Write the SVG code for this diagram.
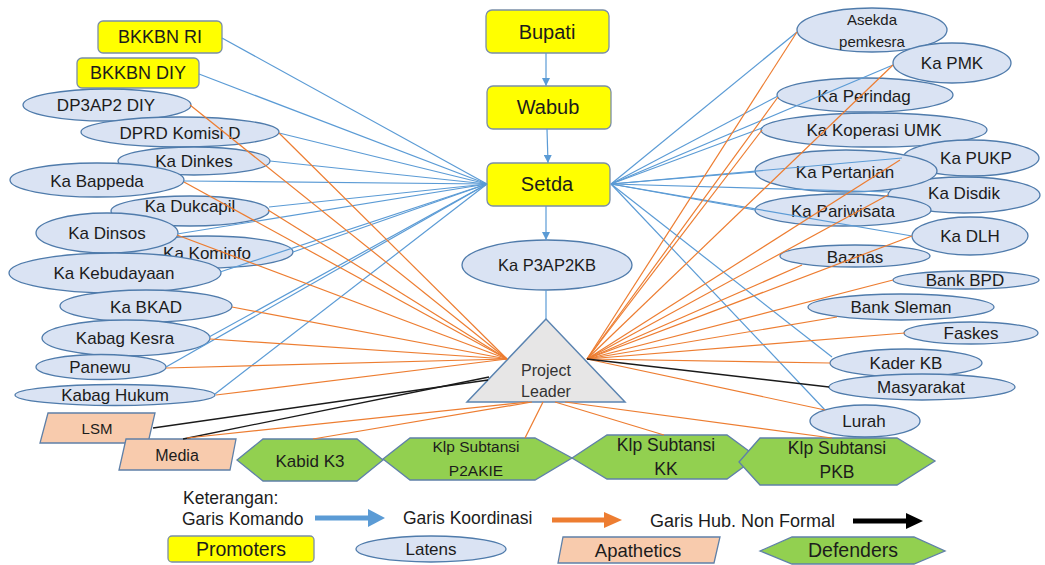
<svg xmlns="http://www.w3.org/2000/svg" width="1045" height="565" viewBox="0 0 1045 565">
<style>
text{font-family:"Liberation Sans",Arial,sans-serif;fill:#1c1c1c;text-anchor:middle;dominant-baseline:central;font-size:17px}
.ell{fill:#dae3f3;stroke:#4f7bab;stroke-width:1.3}
.prom{fill:#ffff00;stroke:#7a8ea8;stroke-width:1.3}
.apa{fill:#f8cbad;stroke:#5f80a8;stroke-width:1.3}
.def{fill:#92d050;stroke:#5f80a8;stroke-width:1.3}
.tri{fill:#e7e6e6;stroke:#5b84b1;stroke-width:1.5}
.b{stroke:#5b9bd5;stroke-width:1.2;fill:none}
.o{stroke:#ed7d31;stroke-width:1.2;fill:none}
.k{stroke:#1a1a1a;stroke-width:1.3;fill:none}
.s15{font-size:15px}
.s20{font-size:20px}
.pl{font-size:16px;fill:#333}
</style>
<defs>
<marker id="ah" markerUnits="userSpaceOnUse" markerWidth="8" markerHeight="8" refX="8" refY="4" orient="auto">
<path d="M0,0 L8,4 L0,8 z" fill="#5b9bd5"/>
</marker>
</defs>

<!-- centre column -->
<g id="bupati"><rect class="prom" x="486" y="10" width="123" height="43" rx="6"/><text class="s20" x="547" y="32">Bupati</text></g>
<g id="wabub"><rect class="prom" x="487" y="86" width="124" height="43" rx="6"/><text class="s20" x="548" y="107">Wabub</text></g>
<g id="setda"><rect class="prom" x="487" y="163" width="123" height="43" rx="6"/><text class="s20" x="547" y="184">Setda</text></g>
<g id="kap3ap2kb"><ellipse class="ell" cx="547" cy="265" rx="85" ry="25"/><text x="547" y="265" style="font-size:16.5px">Ka P3AP2KB</text></g>
<g id="projectleader"><polygon class="tri" points="546,319 467,402 625,402"/><text class="pl" x="546" y="370">Project</text><text class="pl" x="546" y="391">Leader</text></g>

<!-- left -->
<g id="bkkbnri"><rect class="prom" x="98" y="21" width="124" height="32" rx="5"/><text x="160" y="37" style="font-size:18px">BKKBN RI</text></g>
<g id="bkkbndiy"><rect class="prom" x="77" y="58" width="122" height="30" rx="5"/><text x="138" y="73" style="font-size:18px">BKKBN DIY</text></g>
<g id="dp3ap2diy"><ellipse class="ell" cx="107" cy="105" rx="84" ry="16"/><text x="106" y="105">DP3AP2 DIY</text></g>
<g id="dprd"><ellipse class="ell" cx="180" cy="132" rx="99" ry="15"/><text x="180" y="133">DPRD Komisi D</text></g>
<g id="dinkes"><ellipse class="ell" cx="194" cy="161" rx="76" ry="14"/><text x="194" y="161">Ka Dinkes</text></g>
<g id="dukcapil"><ellipse class="ell" cx="190" cy="211" rx="79" ry="15"/><text x="190" y="206">Ka Dukcapil</text></g>
<g id="bappeda"><ellipse class="ell" cx="97" cy="180" rx="87" ry="17"/><text x="97" y="181">Ka Bappeda</text></g>
<g id="kominfo"><ellipse class="ell" cx="207" cy="252" rx="86" ry="16"/><text x="207" y="253">Ka Kominfo</text></g>
<g id="dinsos"><ellipse class="ell" cx="107" cy="233" rx="71" ry="20"/><text x="107" y="233">Ka Dinsos</text></g>
<g id="kebudayaan"><ellipse class="ell" cx="115" cy="273" rx="106" ry="20"/><text x="114" y="273">Ka Kebudayaan</text></g>
<g id="bkad"><ellipse class="ell" cx="146" cy="306" rx="86" ry="16"/><text x="146" y="307">Ka BKAD</text></g>
<g id="kabagkesra"><ellipse class="ell" cx="126" cy="338" rx="84" ry="18"/><text x="125" y="338">Kabag Kesra</text></g>
<g id="panewu"><ellipse class="ell" cx="101" cy="367" rx="65" ry="12.5"/><text x="100" y="367">Panewu</text></g>
<g id="kabaghukum"><ellipse class="ell" cx="115" cy="395" rx="100" ry="10.5"/><text x="115" y="395">Kabag Hukum</text></g>
<g id="lsm"><polygon class="apa" points="48,413 155,413 148,443 40,443"/><text class="s15" x="97" y="428">LSM</text></g>
<g id="media"><polygon class="apa" points="126,439 236,439 230,470 119,470"/><text x="177" y="455" style="font-size:16px">Media</text></g>

<!-- bottom -->
<g id="kabidk3"><polygon class="def" points="237,460 263,439 357,439 383,460 357,481 263,481"/><text x="310" y="461">Kabid K3</text></g>
<g id="p2akie"><polygon class="def" points="383,459 410,438 535,438 572,458 535,480 410,480"/><text x="476" y="446" style="font-size:15.5px">Klp Subtansi</text><text x="476" y="470" style="font-size:15.5px">P2AKIE</text></g>
<g id="kk"><polygon class="def" points="572,458 607,435 727,435 757,457 727,479 607,479"/><text x="666" y="445" style="font-size:17.5px">Klp Subtansi</text><text x="666" y="469" style="font-size:17.5px">KK</text></g>
<g id="pkb"><polygon class="def" points="739,462 760,438 897,438 935,461 897,485 760,485"/><text x="837" y="448" style="font-size:17.5px">Klp Subtansi</text><text x="837" y="472" style="font-size:17.5px">PKB</text></g>

<!-- right -->
<g id="asekda"><ellipse class="ell" cx="872" cy="30" rx="75" ry="22"/><text class="s15" x="872" y="19">Asekda</text><text class="s15" x="872" y="41">pemkesra</text></g>
<g id="kapmk"><ellipse class="ell" cx="952" cy="63" rx="59" ry="20"/><text x="952" y="63">Ka PMK</text></g>
<g id="perindag"><ellipse class="ell" cx="865" cy="95" rx="88" ry="17"/><text x="864" y="96">Ka Perindag</text></g>
<g id="koperasi"><ellipse class="ell" cx="874" cy="130" rx="113" ry="17"/><text x="874" y="130">Ka Koperasi UMK</text></g>
<g id="pukp"><ellipse class="ell" cx="971" cy="158" rx="68" ry="18"/><text x="976" y="158">Ka PUKP</text></g>
<g id="disdik"><ellipse class="ell" cx="964" cy="195" rx="76" ry="18"/><text x="964" y="193">Ka Disdik</text></g>
<g id="pertanian"><ellipse class="ell" cx="846" cy="171" rx="91" ry="21"/><text x="845" y="172">Ka Pertanian</text></g>
<g id="pariwisata"><ellipse class="ell" cx="843" cy="210" rx="88" ry="16"/><text x="843" y="211">Ka Pariwisata</text></g>
<g id="dlh"><ellipse class="ell" cx="970" cy="236" rx="58" ry="19"/><text x="970" y="236">Ka DLH</text></g>
<g id="baznas"><ellipse class="ell" cx="855" cy="256" rx="75" ry="11"/><text x="855" y="257">Baznas</text></g>
<g id="bankbpd"><ellipse class="ell" cx="966" cy="280" rx="73" ry="9"/><text x="965" y="280">Bank BPD</text></g>
<g id="banksleman"><ellipse class="ell" cx="901" cy="307" rx="93" ry="13"/><text x="901" y="307">Bank Sleman</text></g>
<g id="faskes"><ellipse class="ell" cx="971" cy="333" rx="67" ry="11"/><text x="971" y="333">Faskes</text></g>
<g id="kaderkb"><ellipse class="ell" cx="906" cy="363" rx="76" ry="14"/><text x="906" y="363">Kader KB</text></g>
<g id="masyarakat"><ellipse class="ell" cx="922" cy="387" rx="93" ry="13"/><text x="921" y="387">Masyarakat</text></g>
<g id="lurah"><ellipse class="ell" cx="865" cy="421" rx="55" ry="16"/><text x="864" y="421">Lurah</text></g>

<!-- connectors -->
<g id="connectors">
<line class="b" x1="546" y1="53" x2="546" y2="86" marker-end="url(#ah)"/>
<line class="b" x1="547" y1="129" x2="548" y2="163" marker-end="url(#ah)"/>
<line class="b" x1="546" y1="206" x2="546" y2="240" marker-end="url(#ah)"/>
<line class="b" x1="546" y1="290" x2="546" y2="319"/>
<!-- Setda left, blue -->
<line class="b" x1="487" y1="184" x2="222" y2="38"/>
<line class="b" x1="487" y1="184" x2="199" y2="74"/>
<line class="b" x1="487" y1="184" x2="279" y2="133"/>
<line class="b" x1="487" y1="184" x2="270" y2="161"/>
<line class="b" x1="487" y1="184" x2="184" y2="181"/>
<line class="b" x1="487" y1="184" x2="269" y2="207"/>
<line class="b" x1="487" y1="184" x2="177" y2="234"/>
<line class="b" x1="487" y1="184" x2="293" y2="252"/>
<line class="b" x1="487" y1="184" x2="220" y2="272"/>
<line class="b" x1="487" y1="184" x2="209" y2="337"/>
<line class="b" x1="487" y1="184" x2="166" y2="367"/>
<line class="b" x1="487" y1="184" x2="215" y2="394"/>
<!-- PL left, orange -->
<line class="o" x1="507" y1="359" x2="190" y2="105"/>
<line class="o" x1="507" y1="359" x2="279" y2="133"/>
<line class="o" x1="507" y1="359" x2="184" y2="182"/>
<line class="o" x1="507" y1="359" x2="268" y2="210"/>
<line class="o" x1="507" y1="359" x2="177" y2="235"/>
<line class="o" x1="507" y1="359" x2="232" y2="307"/>
<line class="o" x1="507" y1="359" x2="210" y2="339"/>
<line class="o" x1="507" y1="359" x2="166" y2="368"/>
<line class="o" x1="507" y1="359" x2="216" y2="395"/>
<!-- PL bottom-left -->
<line class="k" x1="153" y1="428" x2="488" y2="380"/>
<line class="k" x1="183" y1="439" x2="489" y2="377"/>
<line class="o" x1="187" y1="438" x2="528" y2="402"/>
<line class="o" x1="313" y1="439" x2="532" y2="402"/>
<line class="o" x1="543" y1="402" x2="525" y2="438"/>
<line class="o" x1="555" y1="402" x2="664" y2="435"/>
<line class="o" x1="565" y1="402" x2="832" y2="438"/>
<!-- Setda right, blue -->
<line class="b" x1="611" y1="184" x2="797" y2="32"/>
<line class="b" x1="611" y1="184" x2="893" y2="65"/>
<line class="b" x1="611" y1="184" x2="778" y2="96"/>
<line class="b" x1="611" y1="184" x2="762" y2="128"/>
<line class="b" x1="611" y1="184" x2="902" y2="158"/>
<line class="b" x1="611" y1="184" x2="755" y2="172"/>
<line class="b" x1="611" y1="184" x2="888" y2="192"/>
<line class="b" x1="611" y1="184" x2="755" y2="210"/>
<line class="b" x1="611" y1="184" x2="912" y2="236"/>
<line class="b" x1="611" y1="184" x2="832" y2="357"/>
<line class="b" x1="611" y1="184" x2="825" y2="410"/>
<!-- PL right, orange -->
<line class="o" x1="587" y1="359" x2="797" y2="32"/>
<line class="o" x1="587" y1="359" x2="893" y2="65"/>
<line class="o" x1="587" y1="359" x2="778" y2="97"/>
<line class="o" x1="587" y1="359" x2="762" y2="130"/>
<line class="o" x1="587" y1="359" x2="900" y2="160"/>
<line class="o" x1="587" y1="359" x2="888" y2="195"/>
<line class="o" x1="587" y1="359" x2="912" y2="236"/>
<line class="o" x1="587" y1="359" x2="802" y2="265"/>
<line class="o" x1="587" y1="359" x2="893" y2="280"/>
<line class="o" x1="587" y1="359" x2="837" y2="317"/>
<line class="o" x1="587" y1="359" x2="905" y2="333"/>
<line class="o" x1="587" y1="359" x2="830" y2="363"/>
<line class="o" x1="587" y1="359" x2="825" y2="410"/>
<line class="k" x1="587" y1="359" x2="829" y2="387"/>
</g>

<!-- legend -->
<g id="legend">
<text x="183" y="498" style="text-anchor:start;font-size:17.5px">Keterangan:</text>
<text x="182" y="519" style="text-anchor:start;font-size:17.5px">Garis Komando</text>
<line x1="315" y1="518" x2="370" y2="518" stroke="#5b9bd5" stroke-width="5"/>
<polygon points="368,509 385,518 368,527" fill="#5b9bd5"/>
<text x="403" y="518" style="text-anchor:start;font-size:17.5px">Garis Koordinasi</text>
<line x1="552" y1="520" x2="606" y2="520" stroke="#ed7d31" stroke-width="5"/>
<polygon points="604,512 622,520 604,528" fill="#ed7d31"/>
<text x="650" y="521" style="text-anchor:start;font-size:18px">Garis Hub. Non Formal</text>
<line x1="853" y1="521" x2="908" y2="521" stroke="#000" stroke-width="5"/>
<polygon points="906,513 923,521 906,529" fill="#000"/>
<g id="leg-promoters"><rect class="prom" x="168" y="536" width="146" height="26" rx="4"/><text x="241" y="549" style="font-size:19.5px">Promoters</text></g>
<g id="leg-latens"><ellipse class="ell" cx="431" cy="549" rx="75" ry="13"/><text x="431" y="549">Latens</text></g>
<g id="leg-apathetics"><polygon class="apa" points="563,537 720,537 714,563 558,563"/><text x="638" y="550" style="font-size:18.5px">Apathetics</text></g>
<g id="leg-defenders"><polygon class="def" points="760,551 792,537 914,537 945,551 914,564 792,564"/><text x="853" y="550" style="font-size:19.5px">Defenders</text></g>
</g>
</svg>
